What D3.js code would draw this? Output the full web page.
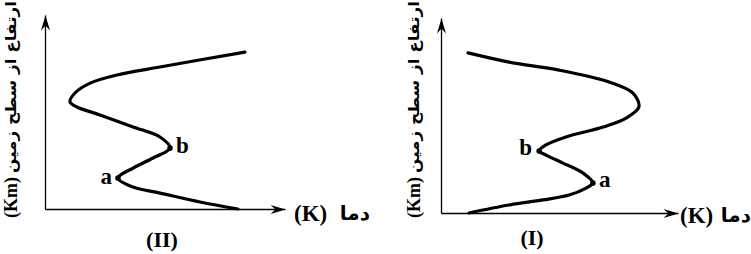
<!DOCTYPE html>
<html>
<head>
<meta charset="utf-8">
<script src="https://cdn.jsdelivr.net/npm/d3@7"></script>
<style>
  html, body { margin: 0; padding: 0; background: #fff; }
  svg { display: block; }
  .lbl { font-family: "Liberation Serif", "DejaVu Serif", serif; font-weight: bold; fill: #000; }
  .fa { font-family: "DejaVu Sans", "Noto Sans", sans-serif; font-weight: bold; fill: #000; }
</style>
</head>
<body>
<div id="chart"></div>
<script>
var tempII = [80.4, 64.6, 47.9, 36.7, 30.4, 36.7, 45, 52.1, 47.9, 36.7, 22.9, 13.3, 10.4, 12.5, 18.8, 30, 47.9, 83.3];
var altII  = [0, 3.6, 8.2, 11.3, 16, 21.1, 26.3, 31.4, 37.1, 42.3, 48.5, 52.6, 55.2, 59.8, 64.9, 69.1, 73.2, 80.9];
var tempI  = [11.8, 28.7, 43, 54, 61.2, 64.1, 59.9, 51.5, 44.3, 41.4, 44.3, 52.7, 68.4, 78.1, 83.5, 81, 70.9, 49.8, 28.7, 11.4];
var altI   = [0, 4.1, 6.7, 9.2, 12.8, 15.4, 20.5, 25.6, 29.7, 31.8, 34.9, 39, 44.1, 48.7, 54.4, 61.5, 67.2, 73.3, 77.4, 82.1];
// index of the marked points a and b in each series
var markII = [{name: "a", i: 4}, {name: "b", i: 7}];
var markI  = [{name: "a", i: 5}, {name: "b", i: 9}];
var panelNames = ["(II)", "(I)"];
var yTitleFa = "ارتفاع از سطح زمین";
var yTitleUnit = "(Km)";
var xTitleFa = "دما";
var xTitleUnit = "(K)";

var width = 751, height = 254;
var svg = d3.select("#chart").append("svg").attr("width", width).attr("height", height);

svg.append("defs").append("marker")
  .attr("id", "arrow")
  .attr("markerUnits", "userSpaceOnUse")
  .attr("markerWidth", 20).attr("markerHeight", 12)
  .attr("refX", 0).attr("refY", 0)
  .attr("viewBox", "-16 -6 20 12")
  .attr("orient", "auto")
  .append("path")
  .attr("d", "M0,0L-15,-4.5L-10,0L-15,4.5Z")
  .attr("fill", "#000");

var panels = [
  {temp: tempII, alt: altII, marks: markII, name: panelNames[0],
   x0: 45, x1: 285, y0: 209, y1: 15, yTitleX: 11, nameX: 162, nameY: 247,
   unitX: 294, faX: 370, xTitleY: 221,
   markDx: {a: [-6, 6, "end"], b: [6, 5, "start"]}},
  {temp: tempI, alt: altI, marks: markI, name: panelNames[1],
   x0: 441, x1: 678, y0: 213, y1: 18, yTitleX: 414, nameX: 532, nameY: 245,
   unitX: 680, faX: 751, xTitleY: 223,
   markDx: {a: [6, 4, "start"], b: [-7, 4, "end"]}}
];

panels.forEach(function (p) {
  var x = d3.scaleLinear().domain([0, 100]).range([p.x0, p.x1]);
  var y = d3.scaleLinear().domain([0, 100]).range([p.y0, p.y1]);
  var g = svg.append("g");

  g.append("g")
    .attr("transform", "translate(0," + p.y0 + ")")
    .call(d3.axisBottom(x).tickValues([]).tickSizeOuter(0));
  g.append("g")
    .attr("transform", "translate(" + p.x0 + ",0)")
    .call(d3.axisLeft(y).tickValues([]).tickSizeOuter(0));
  g.selectAll(".domain")
    .attr("stroke", "#000").attr("stroke-width", 1.3)
    .attr("marker-end", "url(#arrow)");

  var pts = p.temp.map(function (t, i) { return [t, p.alt[i]]; });
  var line = d3.line()
    .x(function (d) { return x(d[0]); })
    .y(function (d) { return y(d[1]); })
    .curve(d3.curveCatmullRom.alpha(0.5));

  g.append("path")
    .datum(pts)
    .attr("d", line)
    .attr("fill", "none")
    .attr("stroke", "#000")
    .attr("stroke-width", 3.2)
    .attr("stroke-linecap", "round")
    .attr("stroke-linejoin", "round");

  p.marks.forEach(function (m) {
    var px = x(pts[m.i][0]), py = y(pts[m.i][1]);
    var off = p.markDx[m.name];
    g.append("circle").attr("cx", px).attr("cy", py).attr("r", 2.8).attr("fill", "#000");
    g.append("text").attr("class", "lbl")
      .attr("x", px + off[0]).attr("y", py + off[1])
      .attr("text-anchor", off[2])
      .attr("font-size", 23)
      .text(m.name);
  });

  g.append("text").attr("class", "lbl")
    .attr("x", p.nameX).attr("y", p.nameY)
    .attr("text-anchor", "middle")
    .attr("font-size", 22)
    .text(p.name);

  // x title: unit on the left, persian word on the right
  g.append("text").attr("class", "lbl")
    .attr("x", p.unitX).attr("y", p.xTitleY)
    .attr("font-size", 23)
    .text(xTitleUnit);
  g.append("text").attr("class", "fa")
    .attr("x", p.faX).attr("y", p.xTitleY - 1)
    .attr("text-anchor", "end")
    .attr("font-size", 20)
    .text(xTitleFa);

  // y title, rotated: unit at the bottom, persian above it
  g.append("text").attr("class", "lbl")
    .attr("transform", "translate(" + p.yTitleX + ",218) rotate(-90)")
    .attr("dominant-baseline", "central")
    .attr("font-size", 18)
    .text(yTitleUnit);
  g.append("text").attr("class", "fa")
    .attr("transform", "translate(" + p.yTitleX + ",1) rotate(-90)")
    .attr("text-anchor", "end")
    .attr("dominant-baseline", "central")
    .attr("font-size", 15)
    .attr("textLength", 172)
    .attr("lengthAdjust", "spacingAndGlyphs")
    .text(yTitleFa);
});
</script>
</body>
</html>
